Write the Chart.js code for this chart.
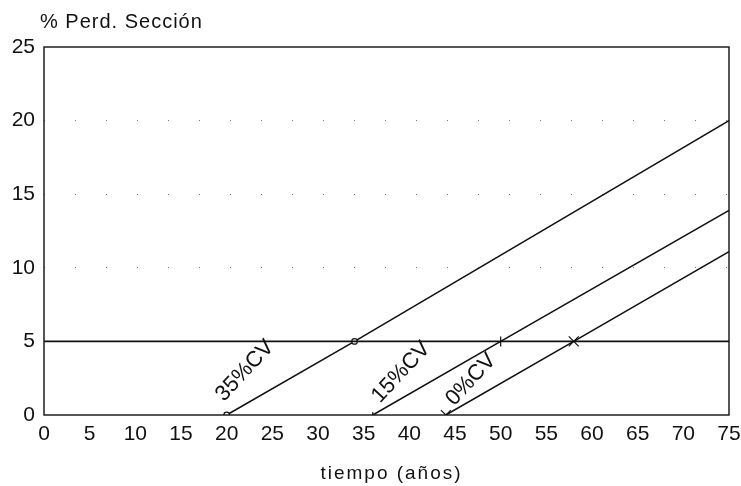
<!DOCTYPE html>
<html>
<head>
<meta charset="utf-8">
<script src="https://cdn.jsdelivr.net/npm/chart.js@4/dist/chart.umd.min.js"></script>
<style>
html, body { margin: 0; padding: 0; background: #fff; }
#wrap { width: 741px; height: 486px; }
</style>
</head>
<body>
<div id="wrap"><canvas id="perdSeccion"></canvas></div>
<script>
// tiempo (años) vs % pérdida de sección, one curve per %CV
var years35 = [20, 34, 75];
var loss35 = [0, 5, 20];
var years15 = [36, 50, 75];
var loss15 = [0, 5, 13.9];
var years0 = [44, 58, 75];
var loss0 = [0, 5, 11.1];
// horizontal limit line at 5 %
var limitYears = [0, 75];
var limitLoss = [5, 5];
var curveNames = ['35%CV', '15%CV', '0%CV'];
var xTicks = [0, 5, 10, 15, 20, 25, 30, 35, 40, 45, 50, 55, 60, 65, 70, 75];
var yTicks = [0, 5, 10, 15, 20, 25];

function pts(xs, ys) {
    return xs.map(function (x, i) { return {x: x, y: ys[i]}; });
}

var ink = '#111';
var font = 'Liberation Sans, Arial, sans-serif';

// where each curve name sits (data units)
var labelAt = {
    '35%CV': [22.0, 3.0],
    '15%CV': [39.1, 2.9],
    '0%CV': [46.75, 2.4]
};

var framePlugin = {
    id: 'frame',
    afterDraw: function (chart) {
        var ctx = chart.ctx, a = chart.chartArea;
        var xs = chart.scales.x, ys = chart.scales.y;
        ctx.save();
        ctx.strokeStyle = ink;
        ctx.lineWidth = 1.4;
        ctx.strokeRect(a.left, a.top, a.right - a.left, a.bottom - a.top);

        // axis titles
        ctx.fillStyle = ink;
        ctx.letterSpacing = '1px';
        ctx.font = '20px ' + font;
        ctx.textAlign = 'left';
        ctx.textBaseline = 'alphabetic';
        ctx.fillText('% Perd. Sección', 40, 28);

        ctx.letterSpacing = '2px';
        ctx.font = '19px ' + font;
        ctx.textAlign = 'center';
        ctx.fillText('tiempo (años)', (a.left + a.right) / 2 + 5, 479);

        ctx.letterSpacing = '0px';
        ctx.font = '22px ' + font;
        ctx.textBaseline = 'middle';
        curveNames.forEach(function (name) {
            var p = labelAt[name];
            ctx.save();
            ctx.translate(xs.getPixelForValue(p[0]), ys.getPixelForValue(p[1]));
            ctx.rotate(-47 * Math.PI / 180);
            ctx.fillText(name, 0, 0);
            ctx.restore();
        });
        ctx.restore();
    }
};

var ctx = document.getElementById('perdSeccion');
new Chart(ctx, {
    type: 'scatter',
    data: {
        datasets: [{
            label: '5%',
            data: pts(limitYears, limitLoss),
            showLine: true,
            borderColor: ink,
            borderWidth: 1.8,
            pointRadius: 0
        }, {
            label: curveNames[0],
            data: pts(years35, loss35),
            showLine: true,
            borderColor: ink,
            borderWidth: 1.6,
            pointStyle: 'circle',
            pointRadius: [2.8, 2.8, 0],
            pointBackgroundColor: '#fff',
            pointBorderColor: ink,
            pointBorderWidth: 1.2
        }, {
            label: curveNames[1],
            data: pts(years15, loss15),
            showLine: true,
            borderColor: ink,
            borderWidth: 1.6,
            pointStyle: 'line',
            pointRotation: 90,
            pointRadius: [3, 5, 0],
            pointBorderColor: ink,
            pointBorderWidth: 1.2
        }, {
            label: curveNames[2],
            data: pts(years0, loss0),
            showLine: true,
            borderColor: ink,
            borderWidth: 1.6,
            pointStyle: 'crossRot',
            pointRadius: [7, 7, 0],
            pointBorderColor: ink,
            pointBorderWidth: 1.2
        }]
    },
    options: {
        responsive: true,
        maintainAspectRatio: false,
        animation: false,
        layout: {padding: {top: 47, right: 12, left: 0, bottom: 0}},
        plugins: {
            legend: {display: false},
            tooltip: {enabled: false}
        },
        scales: {
            x: {
                type: 'linear',
                min: xTicks[0],
                max: xTicks[xTicks.length - 1],
                afterBuildTicks: function (s) {
                    s.ticks = xTicks.map(function (v) { return {value: v}; });
                },
                afterFit: function (s) {
                    s.height = 71;
                    s.paddingLeft = 0;
                    s.paddingRight = 0;
                },
                ticks: {
                    color: ink,
                    padding: 7,
                    maxRotation: 0,
                    font: {family: font, size: 21}
                },
                grid: {display: false, drawTicks: false},
                border: {display: false}
            },
            y: {
                min: yTicks[0],
                max: yTicks[yTicks.length - 1],
                afterBuildTicks: function (s) {
                    s.ticks = yTicks.map(function (v) { return {value: v}; });
                },
                afterFit: function (s) {
                    s.width = 44;
                },
                ticks: {
                    color: ink,
                    padding: 9,
                    font: {family: font, size: 21}
                },
                grid: {
                    drawTicks: false,
                    lineWidth: 1,
                    color: function (c) {
                        var v = c.tick ? c.tick.value : 0;
                        return (v === 0 || v === 25) ? 'rgba(0,0,0,0)' : '#777';
                    }
                },
                border: {display: false, dash: [1, 30]}
            }
        }
    },
    plugins: [framePlugin]
});
</script>
</body>
</html>
